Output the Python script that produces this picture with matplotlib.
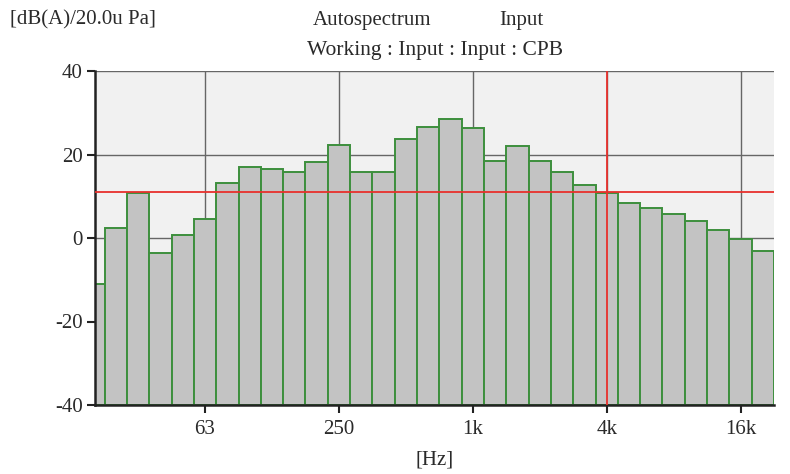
import numpy as np
import matplotlib
matplotlib.use("Agg")
import matplotlib.pyplot as plt
from matplotlib.ticker import FixedLocator, NullLocator

# Third-octave band centres (nominal, Hz) and levels (dB(A))
band_centres = [20, 25, 31.5, 40, 50, 63, 80, 100, 125, 160, 200, 250, 315, 400,
                500, 630, 800, 1000, 1250, 1600, 2000, 2500, 3150, 4000, 5000,
                6300, 8000, 10000, 12500, 16000, 20000]
levels = [-11.0, 2.3, 10.8, -3.7, 0.8, 4.5, 13.2, 16.9, 16.5, 15.7, 18.1, 22.3,
          15.7, 15.9, 23.7, 26.7, 28.4, 26.3, 18.5, 22.0, 18.5, 15.7, 12.6, 10.8,
          8.5, 7.2, 5.8, 4.1, 2.0, -0.3, -3.0]
tick_freqs = [63, 250, 1000, 4000, 16000]
tick_labels = ["63", "250", "1k", "4k", "16k"]
y_ticks = [-40, -20, 0, 20, 40]
cursor_level = 11.0
cursor_freq = 4000

def exact(f):
    n = np.round(3 * np.log2(np.asarray(f, dtype=float) / 1000.0))
    return 1000.0 * 2.0 ** (n / 3.0)

centres = exact(band_centres)
lo = centres * 2 ** (-1 / 6)
hi = centres * 2 ** (1 / 6)

plt.rcParams['font.family'] = ['Liberation Serif', 'DejaVu Serif']
plt.rcParams['axes.unicode_minus'] = False

fig = plt.figure(figsize=(7.9, 4.74), dpi=100)
ax = fig.add_axes([95 / 790, 1 - 405 / 474, (774 - 95) / 790, (405 - 71) / 474])
ax.set_facecolor('#f1f1f1')
ax.set_xscale('log')
ymin = -40
ax.bar(lo, np.array(levels) - ymin, width=hi - lo, bottom=ymin, align='edge',
       color='#c3c3c3', edgecolor='#3d8f3d', linewidth=1.4, zorder=2)

ax.set_xlim(20.0, hi[-1])
ax.set_ylim(-40, 40)
ax.xaxis.set_major_locator(FixedLocator(exact(tick_freqs)))
ax.xaxis.set_minor_locator(NullLocator())
ax.set_xticklabels(tick_labels)
ax.set_yticks(y_ticks)
ax.set_axisbelow(True)
ax.grid(True, color='#666666', linewidth=1.0, zorder=0)

ax.axhline(cursor_level, color='#e8302c', linewidth=1.3, zorder=3)
ax.axvline(exact([cursor_freq])[0], color='#e8302c', linewidth=1.3, zorder=3)

for s in ['top', 'right']:
    ax.spines[s].set_visible(False)
for s in ['left', 'bottom']:
    ax.spines[s].set_linewidth(1.8)
    ax.spines[s].set_color('#222222')
ax.tick_params(axis='both', direction='out', length=6, width=1.5, colors='#222222',
               labelsize=15, labelcolor='#2a2a2a')
ax.tick_params(axis='y', pad=3)
ax.tick_params(axis='x', pad=5)

fig.text(10 / 790, 1 - 20 / 474, "[dB(A)/20.0u Pa]", fontsize=15, ha='left',
         va='center', color='#2a2a2a')
fig.text(372 / 790, 1 - 20 / 474, "Autospectrum", fontsize=15, ha='center',
         va='center', color='#2a2a2a')
fig.text(521 / 790, 1 - 20 / 474, "Input", fontsize=15, ha='center',
         va='center', color='#2a2a2a')
fig.text(435 / 790, 1 - 50 / 474, "Working : Input : Input : CPB", fontsize=15.5,
         ha='center', va='center', color='#2a2a2a')
fig.text(435 / 790, 1 - 460 / 474, "[Hz]", fontsize=15, ha='center',
         va='center', color='#2a2a2a')

fig.savefig("out.png", dpi=100)
